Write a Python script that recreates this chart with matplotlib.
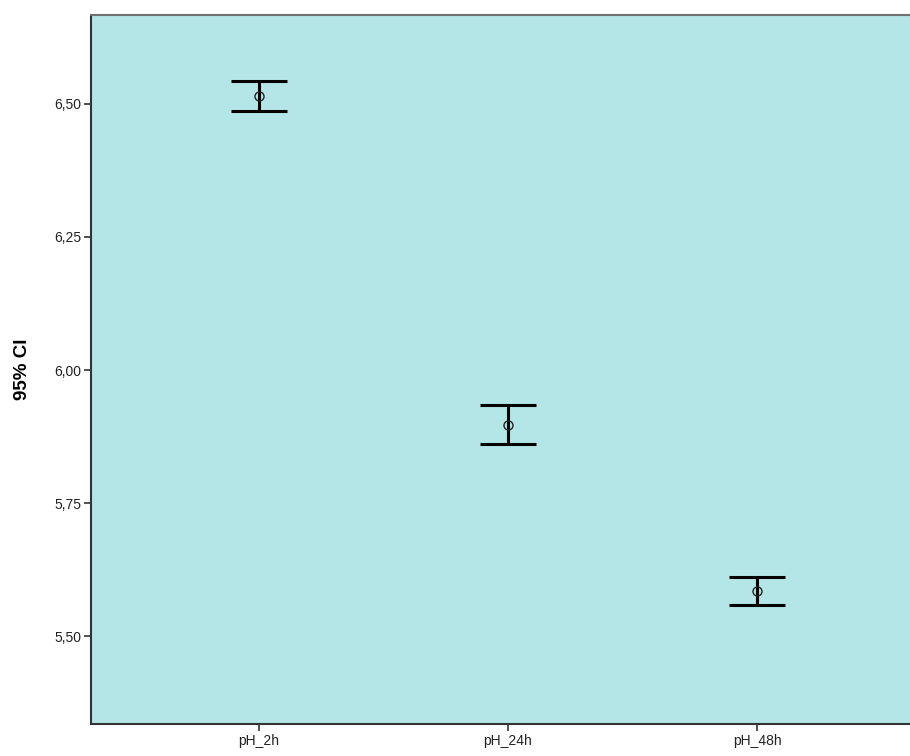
import matplotlib
matplotlib.use('Agg')
import matplotlib.pyplot as plt
import numpy as np

plt.rcParams['font.family'] = ['Liberation Sans', 'DejaVu Sans']

# 95% CI of pH at each time point
groups = ['pH_2h', 'pH_24h', 'pH_48h']
means = [6.515, 5.897, 5.585]
ci_low = [6.487, 5.861, 5.558]
ci_high = [6.543, 5.934, 5.611]
y_ticks = [5.50, 5.75, 6.00, 6.25, 6.50]

fig = plt.figure(figsize=(9.1, 7.56), dpi=100)
ax = fig.add_axes([0.1, 0.0423, 0.9, 0.9379])
ax.set_facecolor('#b4e5e7')

x = np.arange(len(groups))
m = np.array(means)
yerr = [m - np.array(ci_low), np.array(ci_high) - m]
ax.errorbar(x, m, yerr=yerr, fmt='none', ecolor='black', elinewidth=2.2,
            capsize=20.5, capthick=2.2)
ax.plot(x, m, 'o', mfc='none', mec='#222222', ms=6.5, mew=1)

ax.set_xlim(-0.673, 2.613)
ax.set_ylim(5.335, 6.667)
ax.set_xticks(x)
ax.set_xticklabels(groups, fontsize=10, color='#222222')
ax.set_yticks(y_ticks)
ax.set_yticklabels([f'{v:.2f}'.replace('.', ',') for v in y_ticks], fontsize=10, color='#222222')
ax.tick_params(axis='both', direction='out', length=5, width=1.2, color='#333333', pad=2)
ax.set_ylabel('95% CI', fontsize=13.5, fontweight='bold', labelpad=17)

ax.spines['right'].set_visible(False)
ax.spines['left'].set_color('#333333')
ax.spines['bottom'].set_color('#333333')
ax.spines['top'].set_color('#707070')
for s in ['left', 'bottom', 'top']:
    ax.spines[s].set_linewidth(1.5)

fig.savefig('out.png', dpi=100)
